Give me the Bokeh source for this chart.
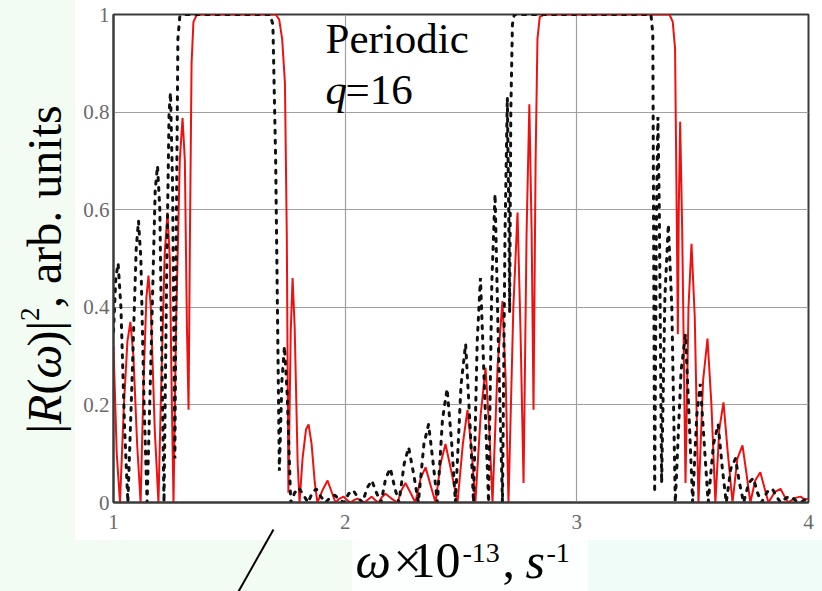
import math
from bokeh.plotting import figure
from bokeh.models import (Range1d, FixedTicker, NumeralTickFormatter, Label,
                          ColumnDataSource)
from bokeh.core.properties import value
from bokeh.embed import file_html
from bokeh.resources import INLINE

# ---------------- data ----------------
x_ticks = [1, 2, 3, 4]
y_ticks = [0, 0.2, 0.4, 0.6, 0.8, 1]

red_x = [1.000, 1.014, 1.028, 1.045, 1.060, 1.073, 1.086, 1.102, 1.117, 1.130,
         1.142, 1.151, 1.161, 1.178, 1.194, 1.206, 1.221, 1.233, 1.243, 1.252,
         1.259, 1.270, 1.286, 1.298, 1.308, 1.317, 1.324, 1.330, 1.337, 1.345, 1.360,
         1.700, 1.715, 1.728, 1.740, 1.748, 1.755, 1.765, 1.773, 1.782, 1.795,
         1.803, 1.816, 1.831, 1.842, 1.855, 1.869, 1.880, 1.902, 1.924, 1.943,
         1.958, 1.976, 1.993, 2.008, 2.023, 2.038, 2.053, 2.068, 2.083, 2.099,
         2.114, 2.129, 2.144, 2.160, 2.174, 2.200, 2.226, 2.243, 2.260, 2.282,
         2.303, 2.326, 2.347, 2.369, 2.390, 2.412, 2.433, 2.460, 2.485, 2.508,
         2.528, 2.547, 2.562, 2.585, 2.606, 2.622, 2.636, 2.658, 2.679, 2.693,
         2.705, 2.726, 2.744, 2.757, 2.770, 2.783, 2.795, 2.805, 2.813, 2.822,
         2.830, 2.840, 2.860,
         3.400, 3.414, 3.424, 3.431, 3.436, 3.440, 3.446, 3.455, 3.469, 3.482,
         3.495, 3.509, 3.525, 3.545, 3.564, 3.581, 3.598, 3.615, 3.633, 3.652,
         3.672, 3.693, 3.715, 3.732, 3.749, 3.770, 3.792, 3.810, 3.827, 3.855,
         3.879, 3.897, 3.913, 3.940, 3.965, 3.985, 4.000]
red_y = [0.32, 0.10, 0.0, 0.20, 0.33, 0.37, 0.30, 0.12, 0.0, 0.25,
         0.42, 0.465, 0.40, 0.15, 0.0, 0.24, 0.51, 0.594, 0.50, 0.20,
         0.0, 0.36, 0.70, 0.788, 0.70, 0.36, 0.19, 0.55, 0.90, 0.985, 1.0,
         1.0, 0.99, 0.95, 0.86, 0.55, 0.02, 0.35, 0.46, 0.36, 0.08,
         0.0, 0.09, 0.15, 0.16, 0.12, 0.04, 0.0, 0.025, 0.045, 0.02,
         0.0, 0.008, 0.012, 0.005, 0.0, 0.005, 0.008, 0.004, 0.0, 0.006,
         0.012, 0.005, 0.0, 0.012, 0.018, 0.008, 0.0, 0.025, 0.04, 0.02,
         0.0, 0.05, 0.072, 0.035, 0.0, 0.08, 0.12, 0.06, 0.0, 0.12,
         0.19, 0.10, 0.0, 0.18, 0.276, 0.15, 0.0, 0.28, 0.413, 0.25,
         0.0, 0.40, 0.594, 0.35, 0.04, 0.55, 0.816, 0.55, 0.19, 0.70,
         0.95, 0.995, 1.0,
         1.0, 0.985, 0.93, 0.60, 0.345, 0.60, 0.78, 0.55, 0.04, 0.40,
         0.53, 0.38, 0.0, 0.25, 0.336, 0.20, 0.0, 0.15, 0.205, 0.10,
         0.0, 0.09, 0.117, 0.06, 0.0, 0.045, 0.062, 0.03, 0.0, 0.022,
         0.028, 0.012, 0.0, 0.009, 0.012, 0.006, 0.008]

black_x = [1.000, 1.010, 1.020, 1.032, 1.048, 1.062, 1.080, 1.098, 1.108, 1.118,
           1.132, 1.145, 1.162, 1.180, 1.190, 1.200, 1.210, 1.218, 1.229, 1.240,
           1.246, 1.255, 1.265, 1.272, 1.278, 1.286, 1.300,
           1.675, 1.688, 1.700, 1.716, 1.727, 1.738, 1.750, 1.765, 1.782, 1.800,
           1.820, 1.840, 1.858, 1.875, 1.895, 1.915, 1.935, 1.955, 1.975, 1.995,
           2.015, 2.035, 2.055, 2.075, 2.095, 2.115, 2.135, 2.155, 2.175, 2.195,
           2.214, 2.232, 2.255, 2.274, 2.295, 2.316, 2.340, 2.360, 2.380, 2.398,
           2.420, 2.440, 2.460, 2.476, 2.500, 2.520, 2.540, 2.554, 2.570, 2.584,
           2.600, 2.619, 2.633, 2.647, 2.660, 2.679, 2.690, 2.700, 2.706, 2.710,
           2.715, 2.722, 2.730,
           3.320, 3.328, 3.336, 3.344, 3.350, 3.356, 3.366, 3.380, 3.395, 3.410,
           3.425, 3.450, 3.469, 3.485, 3.500, 3.518, 3.533, 3.550, 3.567, 3.590,
           3.610, 3.628, 3.645, 3.665, 3.685, 3.702, 3.720, 3.742, 3.762, 3.780,
           3.797, 3.822, 3.844, 3.862, 3.880, 3.905, 3.925, 3.945, 3.965, 3.985,
           4.000]
black_y = [0.35, 0.46, 0.49, 0.40, 0.15, 0.0, 0.25, 0.52, 0.577, 0.50,
           0.20, 0.0, 0.30, 0.64, 0.69, 0.60, 0.25, 0.0, 0.45, 0.80,
           0.84, 0.65, 0.09, 0.60, 0.95, 0.995, 1.0,
           1.0, 0.98, 0.70, 0.065, 0.25, 0.32, 0.22, 0.0, 0.02, 0.03,
           0.015, 0.0, 0.02, 0.028, 0.012, 0.0, 0.01, 0.015, 0.006, 0.0,
           0.018, 0.025, 0.01, 0.0, 0.03, 0.045, 0.02, 0.0, 0.05, 0.07,
           0.03, 0.0, 0.08, 0.113, 0.06, 0.0, 0.12, 0.16, 0.08, 0.0,
           0.17, 0.233, 0.12, 0.0, 0.24, 0.325, 0.15, 0.0, 0.33, 0.46,
           0.25, 0.0, 0.45, 0.632, 0.35, 0.0, 0.55, 0.83, 0.60, 0.39,
           0.80, 0.98, 1.0,
           1.0, 0.96, 0.02, 0.60, 0.79, 0.60, 0.04, 0.42, 0.57, 0.40,
           0.0, 0.27, 0.345, 0.17, 0.0, 0.18, 0.243, 0.12, 0.0, 0.12,
           0.16, 0.07, 0.0, 0.07, 0.09, 0.04, 0.0, 0.04, 0.05, 0.02,
           0.0, 0.022, 0.028, 0.012, 0.0, 0.01, 0.012, 0.004, 0.0, 0.006,
           0.005]

# ---------------- figure ----------------
MINT = "#f3fcf3"
bg = ("linear-gradient(#ffffff,#ffffff) 75px 0px / 747px 540px no-repeat, "
      "linear-gradient(#fcfffd,#fcfffd) 352px 540px / 236px 51px no-repeat, "
      "linear-gradient(#effcf8,#effcf8) 588px 540px / 234px 51px no-repeat, "
      + MINT)

p = figure(width=822, height=591, x_range=Range1d(1, 4), y_range=Range1d(0, 1),
           output_backend="svg", toolbar_location=None, title=None,
           min_border_left=113, min_border_right=14, min_border_top=14,
           min_border_bottom=89,
           styles={"background": bg})
p.border_fill_color = None
p.background_fill_color = "white"
p.outline_line_color = "#3a3a3a"
p.outline_line_width = 2

for ax, ticks in ((p.xaxis, x_ticks), (p.yaxis, y_ticks)):
    ax.ticker = FixedTicker(ticks=ticks)
    ax.formatter = NumeralTickFormatter(format="0.[0]")
    ax.major_tick_line_color = None
    ax.minor_tick_line_color = None
    ax.major_tick_out = 0
    ax.major_tick_in = 0
    ax.axis_line_color = "#3a3a3a"
    ax.axis_line_width = 2
    ax.major_label_text_font = "Liberation Serif"
    ax.major_label_text_font_size = "21px"
    ax.major_label_text_color = "#6a6a6a"
p.xaxis.major_label_standoff = 12
p.yaxis.major_label_standoff = 4

p.xgrid.ticker = FixedTicker(ticks=x_ticks)
p.ygrid.ticker = FixedTicker(ticks=y_ticks)
for g in (p.xgrid, p.ygrid):
    g.grid_line_color = "#a0a0a0"
    g.grid_line_width = 1.2

p.line(red_x, red_y, line_color="#ee1111", line_width=2)
p.line(black_x, black_y, line_color="#111111", line_width=3,
       line_dash="3 7", line_cap="round")

# ---------------- texts ----------------
SERIF = "Liberation Serif"

def lab(x, y, text, size, style="normal"):
    p.add_layout(Label(x=x, y=y, text=text, text_font=SERIF,
                       text_font_size=f"{size}px", text_font_style=style,
                       text_color="black", text_align="left",
                       text_baseline="alphabetic"))

# in-plot annotation
lab(1.915, 0.950, "Periodic", 43)
lab(1.915, 0.847, "q", 43, "italic")
lab(2.001, 0.847, "=16", 43)

# axis titles: pieces drawn as a text glyph on the overlay level
A = math.pi / 2
title_src = ColumnDataSource(dict(
    x=[2.0446, 2.2086, 2.2820, 2.5065, 2.6791, 2.7784, 2.8690,
       0.7022, 0.7022, 0.7022, 0.7022, 0.7022, 0.6404, 0.7022],
    y=[-0.1189, -0.1189, -0.1189, -0.1033, -0.1189, -0.1189, -0.1033,
       0.1414, 0.1611, 0.2211, 0.2539, 0.3195, 0.3719, 0.3986],
    text=["ω", "×", "10", "-13", ",", "s", "-1",
          "|", "R", "(", "ω", ")|", "2", ",  arb. units"],
    size=["50px", "50px", "50px", "28px", "50px", "50px", "28px",
          "48px", "48px", "48px", "48px", "48px", "27px", "48px"],
    style=["italic", "normal", "normal", "normal", "normal", "italic", "normal",
           "normal", "italic", "normal", "italic", "normal", "normal", "normal"],
    angle=[0, 0, 0, 0, 0, 0, 0, A, A, A, A, A, A, A],
))
p.text(x="x", y="y", text="text", source=title_src, text_font=value(SERIF),
       text_font_size="size", text_font_style="style", angle="angle",
       text_color="black", text_align="left", text_baseline="alphabetic",
       level="overlay")

# pointer line below the axis
p.segment(x0=[1.6906], y0=[-0.0553], x1=[1.5396], y1=[-0.1824],
          line_color="black", line_width=2, level="overlay")

open("out.html", "w").write(file_html(p, INLINE))
